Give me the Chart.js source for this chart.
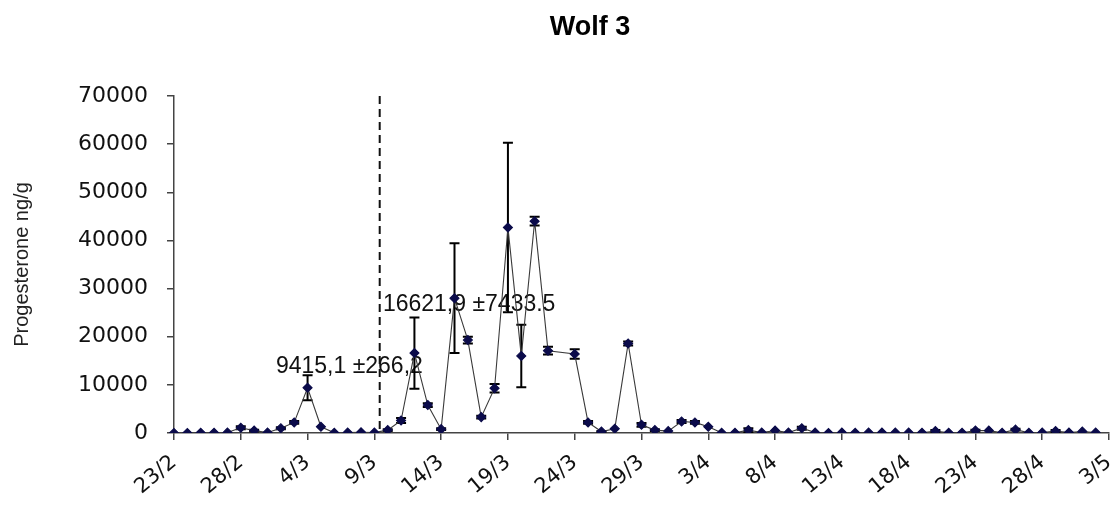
<!DOCTYPE html>
<html>
<head>
<meta charset="utf-8">
<title>Wolf 3</title>
<script src="https://cdn.jsdelivr.net/npm/chart.js@4"></script>
<style>
  html, body { margin: 0; padding: 0; background: #fff; }
  #wrap { width: 1115px; height: 506px; }
</style>
</head>
<body>
<div id="wrap"><canvas id="chart" width="1115" height="506"></canvas></div>
<script>
// sampling days, 23/2 to 3/5
const days = [
  "23/2", "24/2", "25/2", "26/2", "27/2", "28/2", "29/2",
  "1/3", "2/3", "3/3", "4/3", "5/3", "6/3", "7/3", "8/3", "9/3", "10/3",
  "11/3", "12/3", "13/3", "14/3", "15/3", "16/3", "17/3", "18/3", "19/3", "20/3",
  "21/3", "22/3", "23/3", "24/3", "25/3", "26/3", "27/3", "28/3", "29/3", "30/3", "31/3",
  "1/4", "2/4", "3/4", "4/4", "5/4", "6/4", "7/4", "8/4", "9/4", "10/4",
  "11/4", "12/4", "13/4", "14/4", "15/4", "16/4", "17/4", "18/4", "19/4", "20/4",
  "21/4", "22/4", "23/4", "24/4", "25/4", "26/4", "27/4", "28/4", "29/4", "30/4",
  "1/5", "2/5", "3/5"
];

// progesterone ng/g (null = no sample)
const progesterone = [
  0, 0, 50, 50, 100, 1100, 500,
  100, 1000, 2200, 9400, 1300, 50, 100, 150, 100, 600,
  2600, 16600, 5800, 800, 28000, 19300, 3300, 9300, 42700, 16000,
  44000, 17100, null, 16400, 2200, 300, 900, 18600, 1700, 600, 400,
  2400, 2200, 1300, 50, 50, 600, 100, 500, 100, 1000,
  100, 0, 100, 50, 100, 100, 100, 100, 50, 400,
  50, 50, 500, 500, 50, 700, 50, 100, 400, 100,
  300, 100, null
];

// +/- error per sample
const errors = [
  0, 0, 0, 0, 0, 300, 200,
  0, 200, 300, 2600, 0, 0, 0, 0, 0, 200,
  500, 7400, 400, 200, 11400, 700, 300, 900, 17600, 6500,
  900, 800, 0, 1000, 300, 100, 0, 400, 400, 200, 0,
  300, 300, 0, 0, 0, 400, 0, 0, 0, 300,
  0, 0, 0, 0, 0, 0, 0, 0, 0, 200,
  0, 0, 200, 0, 0, 200, 0, 0, 200, 0,
  0, 0, 0
];

const yTicks = [0, 10000, 20000, 30000, 40000, 50000, 60000, 70000];
const notes = ["9415,1 \u00b1266,2", "16621,9 \u00b17433.5"];

const labelEvery = 5;
const markerDay = 15.4; // dashed line, just after 9/3

const extras = {
  id: "extras",
  beforeDatasetsDraw(chart) {
    const { ctx, chartArea, scales: { x, y } } = chart;
    ctx.save();

    // dashed vertical line
    const lx = x.getPixelForValue(markerDay);
    ctx.strokeStyle = "#111";
    ctx.lineWidth = 2;
    ctx.setLineDash([8, 5]);
    ctx.beginPath();
    ctx.moveTo(lx, chartArea.top);
    ctx.lineTo(lx, chartArea.bottom);
    ctx.stroke();
    ctx.setLineDash([]);

    // text notes
    ctx.fillStyle = "#111";
    ctx.font = '23px "Liberation Sans", Arial, sans-serif';
    ctx.textBaseline = "middle";
    ctx.textAlign = "left";
    ctx.fillText(notes[0], x.getPixelForValue(7.63), y.getPixelForValue(13800));
    ctx.fillText(notes[1], x.getPixelForValue(15.64), y.getPixelForValue(26600));

    // error bars
    ctx.strokeStyle = "#000";
    ctx.lineWidth = 2;
    progesterone.forEach((v, i) => {
      const e = errors[i];
      if (v === null || !e) return;
      const px = x.getPixelForValue(i);
      const top = y.getPixelForValue(v + e);
      const bot = y.getPixelForValue(Math.max(0, v - e));
      ctx.beginPath();
      ctx.moveTo(px, top);
      ctx.lineTo(px, bot);
      ctx.moveTo(px - 5, top);
      ctx.lineTo(px + 5, top);
      ctx.moveTo(px - 5, bot);
      ctx.lineTo(px + 5, bot);
      ctx.stroke();
    });
    ctx.restore();
  },
  afterDraw(chart) {
    const ctx = chart.ctx;
    ctx.save();
    ctx.fillStyle = "#000";
    ctx.font = 'bold 27px "Liberation Sans", Arial, sans-serif';
    ctx.textAlign = "center";
    ctx.textBaseline = "middle";
    ctx.fillText("Wolf 3", 590, 28);
    ctx.restore();
  }
};

new Chart(document.querySelector("#chart"), {
  type: "line",
  data: {
    labels: days,
    datasets: [{
      label: "Progesterone",
      data: progesterone,
      borderColor: "#3a3a3a",
      borderWidth: 1.1,
      pointStyle: "rectRot",
      pointRadius: 4.5,
      pointBackgroundColor: "#0b0b4a",
      pointBorderColor: "#0b0b4a",
      spanGaps: true,
      tension: 0
    }]
  },
  options: {
    responsive: false,
    animation: false,
    layout: { padding: { top: 96, right: 6, left: 0, bottom: 0 } },
    plugins: {
      legend: { display: false },
      tooltip: { enabled: false },
      title: { display: false }
    },
    scales: {
      x: {
        type: "category",
        offset: false,
        border: { color: "#444", width: 1.5 },
        grid: { drawOnChartArea: false, tickLength: 7, color: "#444", lineWidth: 1.5 },
        ticks: {
          autoSkip: false,
          minRotation: 40,
          maxRotation: 40,
          padding: 10,
          color: "#111",
          font: { family: "DejaVu Sans", size: 21 },
          callback: (val, idx) => (idx % labelEvery === 0 ? days[idx] : null)
        },
        afterFit: scale => {
          scale.height = 73;
          scale.paddingLeft = 0;
          scale.paddingRight = 0;
        }
      },
      y: {
        min: 0,
        max: 70000,
        border: { color: "#444", width: 1.5 },
        grid: { drawOnChartArea: false, tickLength: 7, color: "#444", lineWidth: 1.5 },
        afterBuildTicks: scale => { scale.ticks = yTicks.map(v => ({ value: v })); },
        ticks: {
          padding: 19,
          color: "#111",
          font: { family: "DejaVu Sans", size: 22 },
          callback: v => String(v)
        },
        title: {
          display: true,
          text: "Progesterone ng/g",
          color: "#222",
          padding: { top: 10, bottom: 0 },
          font: { family: "Liberation Sans", size: 20 }
        },
        afterFit: scale => { scale.width = 174; }
      }
    }
  },
  plugins: [extras]
});
</script>
</body>
</html>
